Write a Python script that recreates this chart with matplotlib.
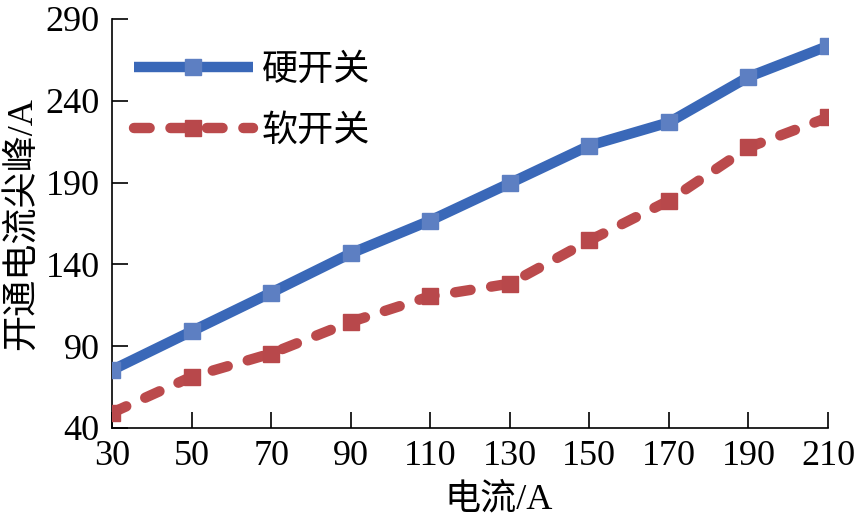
import matplotlib
matplotlib.use('Agg')
import matplotlib.pyplot as plt

plt.rcParams['font.family'] = ['Liberation Serif', 'Noto Sans CJK SC']

# 电流 (A)
current = [30, 50, 70, 90, 110, 130, 150, 170, 190, 210]
# 开通电流尖峰 (A)
hard_switch = [75.4, 99.1, 122.7, 146.7, 166.8, 189.6, 212.6, 226.8, 254.6, 273.5]
soft_switch = [49.3, 71.3, 85.5, 104.8, 120.5, 128.2, 154.6, 179.0, 211.5, 229.8]

xticks = [30, 50, 70, 90, 110, 130, 150, 170, 190, 210]
yticks = [40, 90, 140, 190, 240, 290]

fig = plt.figure(figsize=(8.57, 5.23), dpi=100)
ax = fig.add_axes([0.1307, 0.1817, 0.8355, 0.782])

ax.plot(current, hard_switch, color='#3a68b8', lw=7.5, marker='s', markersize=12,
        markerfacecolor='#5d7fc2', markeredgecolor='#5d7fc2', label='硬开关',
        solid_capstyle='butt', zorder=3)
ax.plot(current, soft_switch, color='#bb4a4c', lw=7.5, marker='s', markersize=12,
        markerfacecolor='#b8484b', markeredgecolor='#b8484b', label='软开关',
        linestyle=(0, (1.5, 2.0)), dash_capstyle='round', zorder=3)

ax.set_xlim(30, 210)
ax.set_ylim(40, 290)
ax.set_xticks(xticks)
ax.set_yticks(yticks)
ax.tick_params(direction='in', length=11.5, width=1.2, labelsize=26, pad=9)
ax.tick_params(axis='x', pad=9)
ax.spines['top'].set_visible(False)
ax.spines['right'].set_visible(False)
for s in ('left', 'bottom'):
    ax.spines[s].set_linewidth(1.2)
    ax.spines[s].set_clip_on(False)

ax.set_xlabel('电流/A', fontsize=26)
ax.xaxis.set_label_coords(0.54, -0.135, transform=ax.transAxes)
ax.xaxis.label.set_va('top')
ax.set_ylabel('开通电流尖峰/A', fontsize=26, labelpad=4)

ax.legend(loc='upper left', bbox_to_anchor=(-0.005, 0.975), frameon=False, fontsize=26,
          handlelength=3.3, handletextpad=0.25, labelspacing=0.75, borderaxespad=0.3)

fig.savefig('out.png', dpi=100)
